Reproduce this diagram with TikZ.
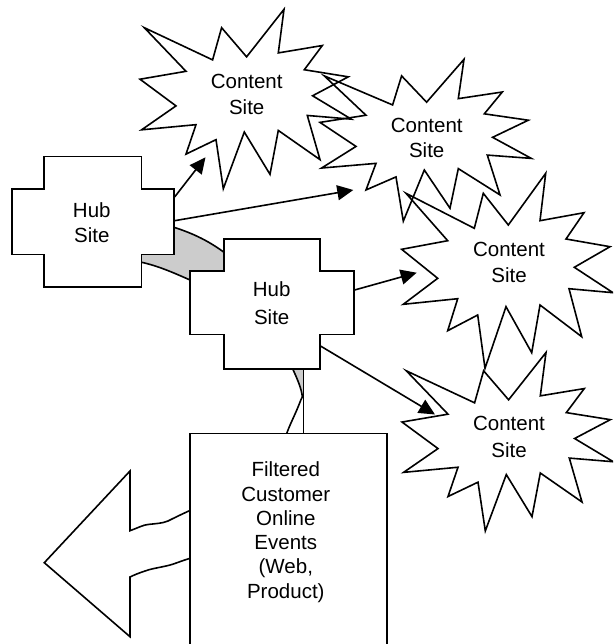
\documentclass[tikz,border=0pt]{standalone}
\usepackage{fontspec}
\setmainfont{Liberation Sans}
\usetikzlibrary{arrows.meta}
\definecolor{bandgray}{RGB}{204,204,204}
\newcommand{\explosionpath}{(0,0) -- (-5.7,47.4) -- (38.3,39.4) -- (20.3,65.7) -- (64.3,73.4) -- (28.6,94) -- (67.3,119.4) -- (23.3,115.4) -- (36,163.4) -- (-5.7,131.7) -- (-14,179.4) -- (-39.7,133.4) -- (-60.7,195) -- (-68,141.7) -- (-98,157.4) -- (-88,125.4) -- (-142.4,131) -- (-108,105) -- (-144,76) -- (-98,67.4) -- (-139.7,20) -- (-71.4,55) -- (-62.4,20) -- (-37.4,51.7) -- cycle}
\begin{document}
\begin{tikzpicture}[x=1pt,y=-1pt,
  outline/.style={draw=black, line width=1.6pt, line join=miter},
  whiteshape/.style={outline, fill=white},
  lbl/.style={font=\fontsize{20.5}{25.5}\selectfont, align=center, inner sep=0pt, anchor=north},
  conn/.style={draw=black, line width=1.6pt, -{Triangle[length=16pt,width=15pt]}},
  plainconn/.style={draw=black, line width=1.6pt},
  band/.style={fill=bandgray}]
\useasboundingbox (0,0) rectangle (613,644);
\clip (0,0) rectangle (613,644);

% gray band between the two hubs
\path[band] (160,222) -- (174,227.3) .. controls (195,234) and (210,242) .. (224,252.3) -- (240,262) -- (240,300) -- (190,280) .. controls (172,272) and (158,266) .. (141.7,262.3) -- (130,250) -- cycle;
\draw[plainconn] (174,227.3) .. controls (195,234) and (210,242) .. (224,252.3);
\draw[plainconn] (190,280) .. controls (172,272) and (158,266) .. (141.7,262.3);

% gray band below hub 2
\path[band] (292.7,369) .. controls (297,378) and (302,390) .. (302.3,397) -- (303.3,397) -- (303.3,360) -- (292.7,360) -- cycle;
\draw[plainconn] (292.7,369) .. controls (297,378) and (302,390) .. (302.3,397) -- (300.7,400.3) .. controls (296,413) and (290,424) .. (286.7,433.5);

% hubs
\draw[whiteshape] (44.2,156.7) -- (141.5,156.7) -- (141.5,189.2) -- (174,189.2) -- (174,254.3) -- (141.5,254.3) -- (141.5,286.7) -- (44.2,286.7) -- (44.2,254.3) -- (11.7,254.3) -- (11.7,189.2) -- (44.2,189.2) -- cycle;
\node[lbl, font=\fontsize{20.5}{25.3}\selectfont] (hub1) at (91.8,202.3) {Hub\\Site};

\draw[whiteshape] (224,239) -- (320,239) -- (320,271) -- (354,271) -- (354,334.3) -- (320,334.3) -- (320,369) -- (224,369) -- (224,334.3) -- (190,334.3) -- (190,271) -- (224,271) -- cycle;
\node[lbl, font=\fontsize{20.5}{27.5}\selectfont] (hub2) at (271.7,281.7) {Hub\\Site};

% left block arrow
\draw[whiteshape] (44.3,562.7) -- (130,471) -- (130,530.7)
  .. controls (140,527) and (143,525) .. (148,524.5)
  .. controls (156,523.5) and (162,523.5) .. (168,521)
  .. controls (176,517) and (184,513) .. (200,506)
  -- (200,556)
  .. controls (184,559) and (176,564) .. (166,566)
  .. controls (157,568) and (150,569) .. (145,571)
  .. controls (139,573) and (134,575) .. (130,577)
  -- (130,636.7) -- cycle;

% filtered events box
\draw[whiteshape] (190,433.3) rectangle (386.7,700);
\node[lbl, font=\fontsize{20.5}{24.3}\selectfont] (fbox) at (285.8,461.7) {Filtered\\Customer\\Online\\Events\\(Web,\\Product)};

% content sites
\begin{scope}[shift={(284,9.3)}, yscale=0.92]
  \draw[outline] \explosionpath;
\end{scope}
\node[lbl] (cs1) at (246.7,74.4) {Content\\Site};

\begin{scope}[shift={(464,59.3)}, yscale=0.83]
  \draw[outline] \explosionpath;
\end{scope}
\node[lbl] (cs2) at (426.7,117.6) {Content\\Site};

\begin{scope}[shift={(545.7,173.3)}]
  \draw[outline] \explosionpath;
\end{scope}
\node[lbl] (cs3) at (509,242.3) {Content\\Site};

\begin{scope}[shift={(546,352.5)}, yscale=0.915]
  \draw[outline] \explosionpath;
\end{scope}
\node[lbl, font=\fontsize{20.5}{27}\selectfont] (cs4) at (509,416) {Content\\Site};

% connector end points
\coordinate (h1a) at (174.6,197);
\coordinate (h1b) at (174.6,220.7);
\coordinate (h2a) at (354.6,290);
\coordinate (h2b) at (320,345.7);
\coordinate (h2c) at (303.3,369);
\coordinate (fbt) at (303.3,433.3);
\coordinate (cs1e) at (205.5,157.3);
\coordinate (cs2e) at (353.3,190);
\coordinate (cs3e) at (416.7,272.7);
\coordinate (cs4e) at (435,414.5);

\draw[conn] (h1a) -- (cs1e);
\draw[conn] (h1b) -- (cs2e);
\draw[conn] (h2a) -- (cs3e);
\draw[conn] (h2b) -- (cs4e);
\draw[plainconn] (h2c) -- (fbt);
\end{tikzpicture}
\end{document}
